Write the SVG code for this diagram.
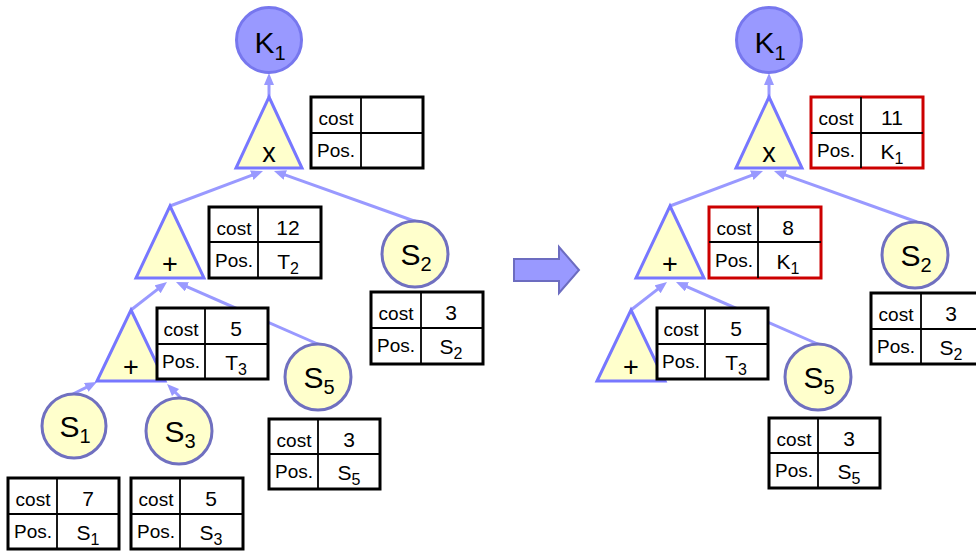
<svg xmlns="http://www.w3.org/2000/svg" width="976" height="551" viewBox="0 0 976 551">
<style>
  text { font-family: "Liberation Sans", Arial, sans-serif; fill: #000; }
  .conn { stroke: #9999ff; stroke-width: 3; fill: none; }
  .tri { fill: #ffffcc; stroke: #7777ff; stroke-width: 3; stroke-linejoin: miter; }
  .leaf { fill: #ffffcc; stroke: #7070c0; stroke-width: 3; }
  .root { fill: #9999ff; stroke: #7777ee; stroke-width: 3; }
  .big { font-size: 30px; }
  .op { font-size: 27px; }
  .tb { fill: #fff; stroke: #000; stroke-width: 3; }
  .tbr { fill: #fff; stroke: #cc0000; stroke-width: 3; }
  .tl { stroke: #000; stroke-width: 1.8; }
  .lab { font-size: 19px; }
  .val { font-size: 21px; }
</style>
<defs>
  <marker id="ah" markerUnits="userSpaceOnUse" markerWidth="13" markerHeight="11" refX="4" refY="5" orient="auto">
    <path d="M0,0 L12,5 L0,10 z" fill="#9999ff"/>
  </marker>
</defs>

<g id="connectors">
  <!-- left tree -->
  <line class="conn" x1="269" y1="97" x2="269" y2="81" marker-end="url(#ah)"/>
  <line class="conn" x1="170" y1="206" x2="255.5" y2="173.8" marker-end="url(#ah)"/>
  <line class="conn" x1="417" y1="222" x2="281.5" y2="173.7" marker-end="url(#ah)"/>
  <line class="conn" x1="131" y1="310" x2="160.7" y2="286.9" marker-end="url(#ah)"/>
  <line class="conn" x1="320" y1="345" x2="183.3" y2="285.2" marker-end="url(#ah)"/>
  <line class="conn" x1="73" y1="394" x2="89.8" y2="385.6" marker-end="url(#ah)"/>
  <line class="conn" x1="181" y1="398" x2="172.7" y2="389.7" marker-end="url(#ah)"/>
  <!-- right tree -->
  <line class="conn" x1="769" y1="97" x2="769" y2="81" marker-end="url(#ah)"/>
  <line class="conn" x1="670" y1="206" x2="755.5" y2="173.8" marker-end="url(#ah)"/>
  <line class="conn" x1="917" y1="222" x2="781.5" y2="173.7" marker-end="url(#ah)"/>
  <line class="conn" x1="631" y1="310" x2="660.7" y2="286.9" marker-end="url(#ah)"/>
  <line class="conn" x1="820" y1="345" x2="683.3" y2="285.2" marker-end="url(#ah)"/>
</g>

<!-- ================= LEFT TREE ================= -->
<g id="L-K1">
  <circle class="root" cx="269" cy="40" r="32.5"/>
  <text class="big" x="270" y="53" text-anchor="middle">K<tspan font-size="20" dy="7">1</tspan></text>
</g>
<g id="L-x">
  <polygon class="tri" points="269,97 302,168 236,168"/>
  <text class="op" x="269" y="162" text-anchor="middle">x</text>
</g>
<g id="L-plus1">
  <polygon class="tri" points="170,206 204,278 136,278"/>
  <text class="op" x="170" y="273" text-anchor="middle">+</text>
</g>
<g id="L-plus2">
  <polygon class="tri" points="131,310 165,381 97,381"/>
  <text class="op" x="131" y="376" text-anchor="middle">+</text>
</g>
<g id="L-S2">
  <circle class="leaf" cx="415" cy="254" r="33"/>
  <text class="big" x="416" y="265" text-anchor="middle">S<tspan font-size="20" dy="6">2</tspan></text>
</g>
<g id="L-S5">
  <circle class="leaf" cx="318" cy="377" r="33"/>
  <text class="big" x="319" y="388" text-anchor="middle">S<tspan font-size="20" dy="6">5</tspan></text>
</g>
<g id="L-S1">
  <circle class="leaf" cx="74" cy="426" r="32"/>
  <text class="big" x="75" y="437" text-anchor="middle">S<tspan font-size="20" dy="6">1</tspan></text>
</g>
<g id="L-S3">
  <circle class="leaf" cx="179" cy="431" r="33"/>
  <text class="big" x="180" y="442" text-anchor="middle">S<tspan font-size="20" dy="6">3</tspan></text>
</g>

<g id="L-tab-x" transform="translate(311,97)">
  <rect class="tb" x="0" y="0" width="112" height="71"/>
  <line class="tl" x1="50" y1="0" x2="50" y2="71"/>
  <line class="tl" x1="0" y1="36" x2="112" y2="36"/>
  <text class="lab" x="25" y="28" text-anchor="middle">cost</text>
  <text class="lab" x="25" y="60" text-anchor="middle">Pos.</text>
</g>
<g id="L-tab-plus1" transform="translate(209,207)">
  <rect class="tb" x="0" y="0" width="112" height="71"/>
  <line class="tl" x1="49" y1="0" x2="49" y2="71"/>
  <line class="tl" x1="0" y1="35" x2="112" y2="35"/>
  <text class="lab" x="25" y="28" text-anchor="middle">cost</text>
  <text class="lab" x="25" y="60" text-anchor="middle">Pos.</text>
  <text class="val" x="79" y="28" text-anchor="middle">12</text>
  <text class="val" x="79" y="62" text-anchor="middle">T<tspan font-size="16" dy="5">2</tspan></text>
</g>
<g id="L-tab-plus2" transform="translate(157,308)">
  <rect class="tb" x="0" y="0" width="111" height="71"/>
  <line class="tl" x1="48" y1="0" x2="48" y2="71"/>
  <line class="tl" x1="0" y1="36" x2="111" y2="36"/>
  <text class="lab" x="24" y="28" text-anchor="middle">cost</text>
  <text class="lab" x="24" y="60" text-anchor="middle">Pos.</text>
  <text class="val" x="79" y="28" text-anchor="middle">5</text>
  <text class="val" x="79" y="62" text-anchor="middle">T<tspan font-size="16" dy="5">3</tspan></text>
</g>
<g id="L-tab-S2" transform="translate(371,292)">
  <rect class="tb" x="0" y="0" width="112" height="72"/>
  <line class="tl" x1="50" y1="0" x2="50" y2="72"/>
  <line class="tl" x1="0" y1="36" x2="112" y2="36"/>
  <text class="lab" x="25" y="28" text-anchor="middle">cost</text>
  <text class="lab" x="25" y="60" text-anchor="middle">Pos.</text>
  <text class="val" x="80" y="28" text-anchor="middle">3</text>
  <text class="val" x="80" y="62" text-anchor="middle">S<tspan font-size="16" dy="5">2</tspan></text>
</g>
<g id="L-tab-S5" transform="translate(269,419)">
  <rect class="tb" x="0" y="0" width="111" height="70"/>
  <line class="tl" x1="49" y1="0" x2="49" y2="70"/>
  <line class="tl" x1="0" y1="35" x2="111" y2="35"/>
  <text class="lab" x="25" y="28" text-anchor="middle">cost</text>
  <text class="lab" x="25" y="59" text-anchor="middle">Pos.</text>
  <text class="val" x="80" y="28" text-anchor="middle">3</text>
  <text class="val" x="80" y="61" text-anchor="middle">S<tspan font-size="16" dy="5">5</tspan></text>
</g>
<g id="L-tab-S1" transform="translate(8,478)">
  <rect class="tb" x="0" y="0" width="111" height="71"/>
  <line class="tl" x1="49" y1="0" x2="49" y2="71"/>
  <line class="tl" x1="0" y1="36" x2="111" y2="36"/>
  <text class="lab" x="25" y="28" text-anchor="middle">cost</text>
  <text class="lab" x="25" y="60" text-anchor="middle">Pos.</text>
  <text class="val" x="80" y="28" text-anchor="middle">7</text>
  <text class="val" x="80" y="62" text-anchor="middle">S<tspan font-size="16" dy="5">1</tspan></text>
</g>
<g id="L-tab-S3" transform="translate(131,478)">
  <rect class="tb" x="0" y="0" width="112" height="71"/>
  <line class="tl" x1="49" y1="0" x2="49" y2="71"/>
  <line class="tl" x1="0" y1="36" x2="112" y2="36"/>
  <text class="lab" x="25" y="28" text-anchor="middle">cost</text>
  <text class="lab" x="25" y="60" text-anchor="middle">Pos.</text>
  <text class="val" x="80" y="28" text-anchor="middle">5</text>
  <text class="val" x="80" y="62" text-anchor="middle">S<tspan font-size="16" dy="5">3</tspan></text>
</g>

<!-- big arrow -->
<g id="transition-arrow">
  <polygon points="514,259 559,259 559,247 579,270 559,293 559,281 514,281" fill="#9999ff" stroke="#6c6cc0" stroke-width="2" stroke-linejoin="miter"/>
</g>

<!-- ================= RIGHT TREE ================= -->
<g id="R-K1">
  <circle class="root" cx="769" cy="40" r="32.5"/>
  <text class="big" x="770" y="53" text-anchor="middle">K<tspan font-size="20" dy="7">1</tspan></text>
</g>
<g id="R-x">
  <polygon class="tri" points="769,97 802,168 736,168"/>
  <text class="op" x="769" y="162" text-anchor="middle">x</text>
</g>
<g id="R-plus1">
  <polygon class="tri" points="670,206 704,278 636,278"/>
  <text class="op" x="670" y="273" text-anchor="middle">+</text>
</g>
<g id="R-plus2">
  <polygon class="tri" points="631,310 665,381 597,381"/>
  <text class="op" x="631" y="376" text-anchor="middle">+</text>
</g>
<g id="R-S2">
  <circle class="leaf" cx="915" cy="255" r="33"/>
  <text class="big" x="916" y="266" text-anchor="middle">S<tspan font-size="20" dy="6">2</tspan></text>
</g>
<g id="R-S5">
  <circle class="leaf" cx="818" cy="377" r="33"/>
  <text class="big" x="819" y="388" text-anchor="middle">S<tspan font-size="20" dy="6">5</tspan></text>
</g>

<g id="R-tab-x" transform="translate(811,97)">
  <rect class="tbr" x="0" y="0" width="112" height="71"/>
  <line class="tl" x1="50" y1="0" x2="50" y2="71" stroke-width="2.5"/>
  <line class="tl" x1="0" y1="36" x2="112" y2="36"/>
  <text class="lab" x="25" y="28" text-anchor="middle">cost</text>
  <text class="lab" x="25" y="60" text-anchor="middle">Pos.</text>
  <text class="val" x="81" y="28" text-anchor="middle">11</text>
  <text class="val" x="81" y="62" text-anchor="middle">K<tspan font-size="16" dy="5">1</tspan></text>
</g>
<g id="R-tab-plus1" transform="translate(709,207)">
  <rect class="tbr" x="0" y="0" width="112" height="71"/>
  <line class="tl" x1="49" y1="0" x2="49" y2="71" stroke-width="2.5"/>
  <line class="tl" x1="0" y1="35" x2="112" y2="35"/>
  <text class="lab" x="25" y="28" text-anchor="middle">cost</text>
  <text class="lab" x="25" y="60" text-anchor="middle">Pos.</text>
  <text class="val" x="79" y="28" text-anchor="middle">8</text>
  <text class="val" x="79" y="62" text-anchor="middle">K<tspan font-size="16" dy="5">1</tspan></text>
</g>
<g id="R-tab-plus2" transform="translate(657,308)">
  <rect class="tb" x="0" y="0" width="111" height="71"/>
  <line class="tl" x1="48" y1="0" x2="48" y2="71"/>
  <line class="tl" x1="0" y1="36" x2="111" y2="36"/>
  <text class="lab" x="24" y="28" text-anchor="middle">cost</text>
  <text class="lab" x="24" y="60" text-anchor="middle">Pos.</text>
  <text class="val" x="79" y="28" text-anchor="middle">5</text>
  <text class="val" x="79" y="62" text-anchor="middle">T<tspan font-size="16" dy="5">3</tspan></text>
</g>
<g id="R-tab-S2" transform="translate(871,293)">
  <rect class="tb" x="0" y="0" width="112" height="71"/>
  <line class="tl" x1="50" y1="0" x2="50" y2="71"/>
  <line class="tl" x1="0" y1="36" x2="112" y2="36"/>
  <text class="lab" x="25" y="28" text-anchor="middle">cost</text>
  <text class="lab" x="25" y="60" text-anchor="middle">Pos.</text>
  <text class="val" x="80" y="28" text-anchor="middle">3</text>
  <text class="val" x="80" y="62" text-anchor="middle">S<tspan font-size="16" dy="5">2</tspan></text>
</g>
<g id="R-tab-S5" transform="translate(769,418)">
  <rect class="tb" x="0" y="0" width="111" height="70"/>
  <line class="tl" x1="49" y1="0" x2="49" y2="70"/>
  <line class="tl" x1="0" y1="35" x2="111" y2="35"/>
  <text class="lab" x="25" y="28" text-anchor="middle">cost</text>
  <text class="lab" x="25" y="59" text-anchor="middle">Pos.</text>
  <text class="val" x="80" y="28" text-anchor="middle">3</text>
  <text class="val" x="80" y="61" text-anchor="middle">S<tspan font-size="16" dy="5">5</tspan></text>
</g>
</svg>
